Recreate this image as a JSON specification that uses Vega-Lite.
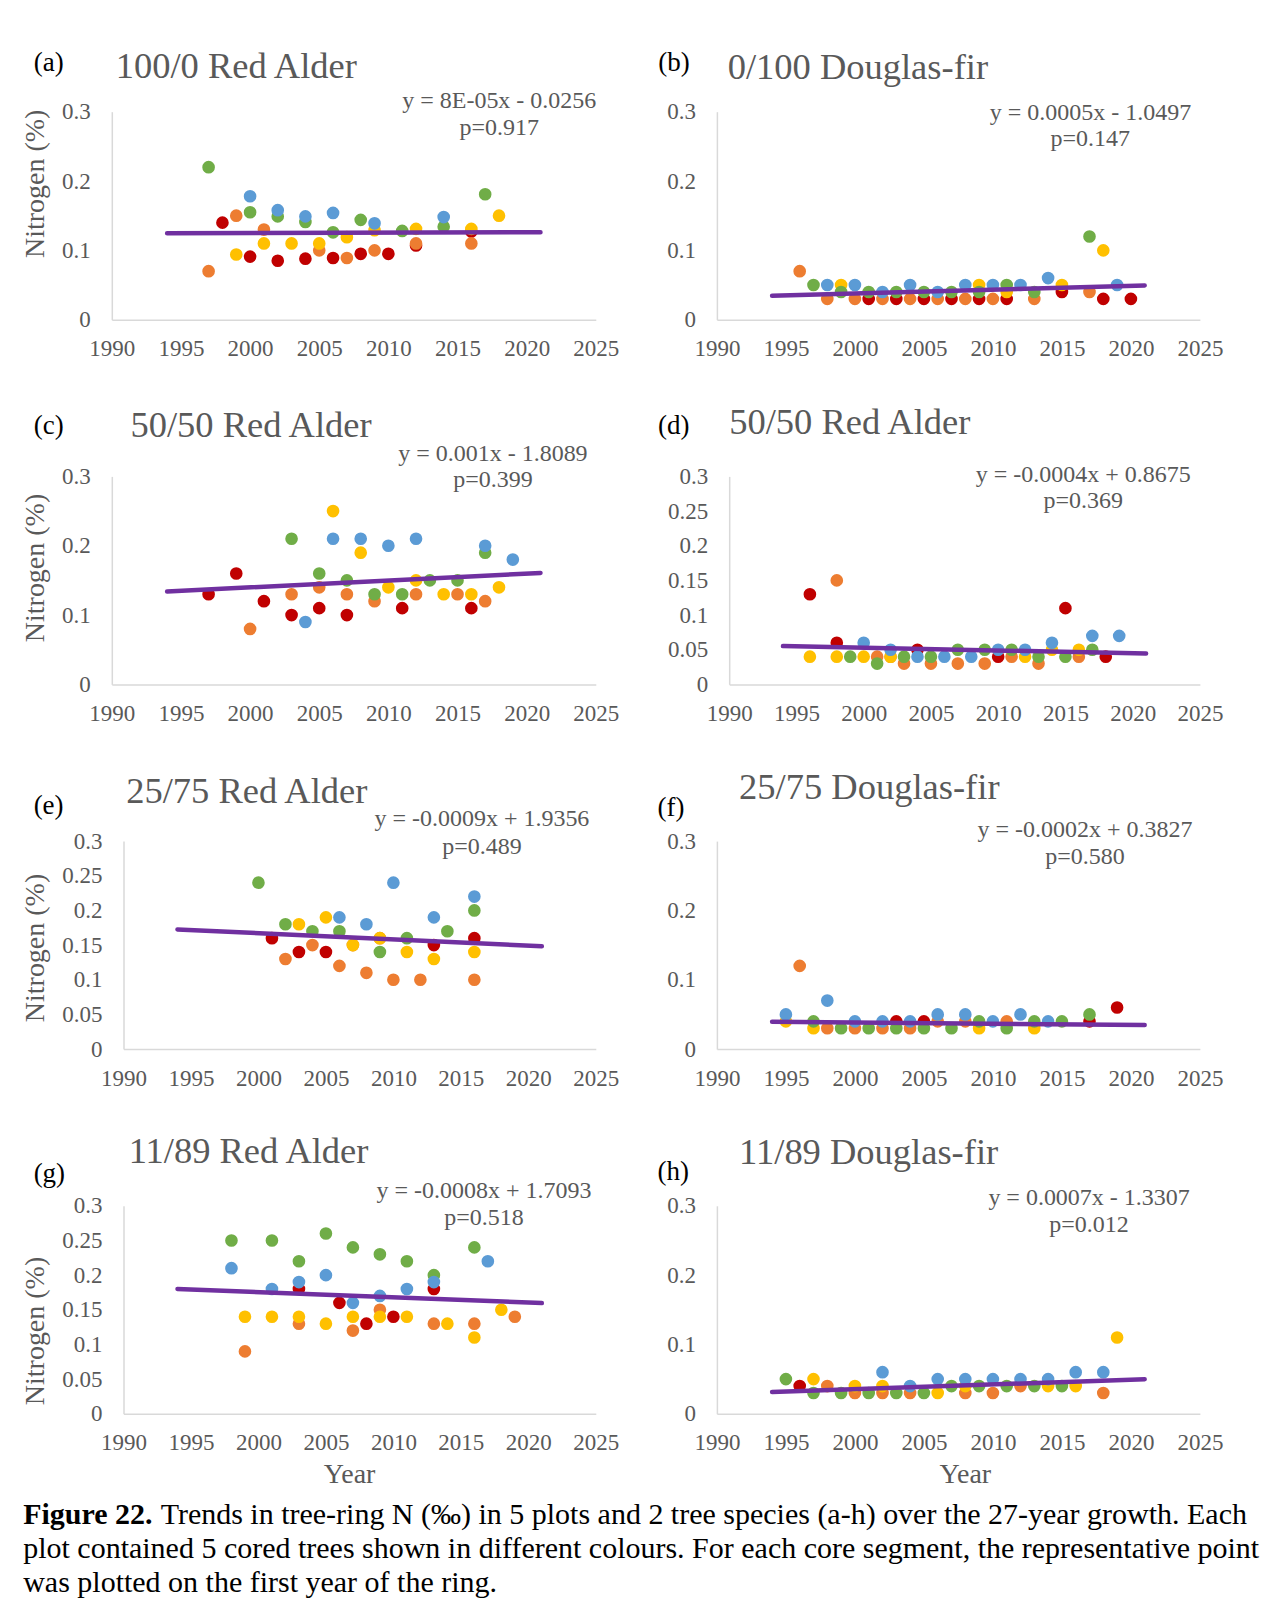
{
  "$schema": "https://vega.github.io/schema/vega-lite/v6.json",
  "background": "white",
  "padding": {"left": 20.8, "top": 48.7, "right": 5, "bottom": 5},
  "datasets": {
    "pts": [
      {"p":"a","t":4,"year":1997,"n":0.22},{"p":"a","t":2,"year":1997,"n":0.07},{"p":"a","t":1,"year":1998,"n":0.14},{"p":"a","t":2,"year":1999,"n":0.15},{"p":"a","t":3,"year":1999,"n":0.094},{"p":"a","t":5,"year":2000,"n":0.178},{"p":"a","t":4,"year":2000,"n":0.155},{"p":"a","t":1,"year":2000,"n":0.091},{"p":"a","t":2,"year":2001,"n":0.13},{"p":"a","t":3,"year":2001,"n":0.11},{"p":"a","t":5,"year":2002,"n":0.158},{"p":"a","t":4,"year":2002,"n":0.149},{"p":"a","t":1,"year":2002,"n":0.085},{"p":"a","t":3,"year":2003,"n":0.11},{"p":"a","t":5,"year":2004,"n":0.149},{"p":"a","t":4,"year":2004,"n":0.141},{"p":"a","t":1,"year":2004,"n":0.088},{"p":"a","t":3,"year":2005,"n":0.11},{"p":"a","t":2,"year":2005,"n":0.1},{"p":"a","t":5,"year":2006,"n":0.154},{"p":"a","t":4,"year":2006,"n":0.126},{"p":"a","t":1,"year":2006,"n":0.089},{"p":"a","t":3,"year":2007,"n":0.119},{"p":"a","t":2,"year":2007,"n":0.089},{"p":"a","t":4,"year":2008,"n":0.144},{"p":"a","t":1,"year":2008,"n":0.095},{"p":"a","t":5,"year":2009,"n":0.139},{"p":"a","t":3,"year":2009,"n":0.129},{"p":"a","t":2,"year":2009,"n":0.1},{"p":"a","t":1,"year":2010,"n":0.095},{"p":"a","t":4,"year":2011,"n":0.128},{"p":"a","t":3,"year":2012,"n":0.131},{"p":"a","t":1,"year":2012,"n":0.107},{"p":"a","t":2,"year":2012,"n":0.11},{"p":"a","t":5,"year":2014,"n":0.148},{"p":"a","t":4,"year":2014,"n":0.134},{"p":"a","t":3,"year":2016,"n":0.131},{"p":"a","t":1,"year":2016,"n":0.127},{"p":"a","t":2,"year":2016,"n":0.11},{"p":"a","t":4,"year":2017,"n":0.181},{"p":"a","t":3,"year":2018,"n":0.15},
      {"p":"b","t":2,"year":1996,"n":0.07},{"p":"b","t":4,"year":1997,"n":0.05},{"p":"b","t":5,"year":1998,"n":0.05},{"p":"b","t":2,"year":1998,"n":0.03},{"p":"b","t":3,"year":1999,"n":0.05},{"p":"b","t":4,"year":1999,"n":0.04},{"p":"b","t":5,"year":2000,"n":0.05},{"p":"b","t":2,"year":2000,"n":0.03},{"p":"b","t":4,"year":2001,"n":0.04},{"p":"b","t":1,"year":2001,"n":0.03},{"p":"b","t":5,"year":2002,"n":0.04},{"p":"b","t":2,"year":2002,"n":0.03},{"p":"b","t":4,"year":2003,"n":0.04},{"p":"b","t":1,"year":2003,"n":0.03},{"p":"b","t":5,"year":2004,"n":0.05},{"p":"b","t":2,"year":2004,"n":0.03},{"p":"b","t":4,"year":2005,"n":0.04},{"p":"b","t":1,"year":2005,"n":0.03},{"p":"b","t":5,"year":2006,"n":0.04},{"p":"b","t":2,"year":2006,"n":0.03},{"p":"b","t":4,"year":2007,"n":0.04},{"p":"b","t":1,"year":2007,"n":0.03},{"p":"b","t":5,"year":2008,"n":0.05},{"p":"b","t":2,"year":2008,"n":0.03},{"p":"b","t":3,"year":2009,"n":0.05},{"p":"b","t":4,"year":2009,"n":0.04},{"p":"b","t":1,"year":2009,"n":0.03},{"p":"b","t":5,"year":2010,"n":0.05},{"p":"b","t":2,"year":2010,"n":0.03},{"p":"b","t":4,"year":2011,"n":0.05},{"p":"b","t":3,"year":2011,"n":0.04},{"p":"b","t":1,"year":2011,"n":0.03},{"p":"b","t":5,"year":2012,"n":0.05},{"p":"b","t":4,"year":2013,"n":0.04},{"p":"b","t":2,"year":2013,"n":0.03},{"p":"b","t":5,"year":2014,"n":0.06},{"p":"b","t":3,"year":2015,"n":0.05},{"p":"b","t":1,"year":2015,"n":0.04},{"p":"b","t":4,"year":2017,"n":0.12},{"p":"b","t":2,"year":2017,"n":0.04},{"p":"b","t":3,"year":2018,"n":0.1},{"p":"b","t":1,"year":2018,"n":0.03},{"p":"b","t":5,"year":2019,"n":0.05},{"p":"b","t":1,"year":2020,"n":0.03},
      {"p":"c","t":1,"year":1997,"n":0.13},{"p":"c","t":1,"year":1999,"n":0.16},{"p":"c","t":2,"year":2000,"n":0.08},{"p":"c","t":1,"year":2001,"n":0.12},{"p":"c","t":4,"year":2003,"n":0.21},{"p":"c","t":2,"year":2003,"n":0.13},{"p":"c","t":1,"year":2003,"n":0.1},{"p":"c","t":5,"year":2004,"n":0.09},{"p":"c","t":4,"year":2005,"n":0.16},{"p":"c","t":2,"year":2005,"n":0.14},{"p":"c","t":1,"year":2005,"n":0.11},{"p":"c","t":3,"year":2006,"n":0.25},{"p":"c","t":5,"year":2006,"n":0.21},{"p":"c","t":4,"year":2007,"n":0.15},{"p":"c","t":2,"year":2007,"n":0.13},{"p":"c","t":1,"year":2007,"n":0.1},{"p":"c","t":5,"year":2008,"n":0.21},{"p":"c","t":3,"year":2008,"n":0.19},{"p":"c","t":4,"year":2009,"n":0.13},{"p":"c","t":2,"year":2009,"n":0.12},{"p":"c","t":5,"year":2010,"n":0.2},{"p":"c","t":3,"year":2010,"n":0.14},{"p":"c","t":4,"year":2011,"n":0.13},{"p":"c","t":1,"year":2011,"n":0.11},{"p":"c","t":5,"year":2012,"n":0.21},{"p":"c","t":3,"year":2012,"n":0.15},{"p":"c","t":2,"year":2012,"n":0.13},{"p":"c","t":4,"year":2013,"n":0.15},{"p":"c","t":3,"year":2014,"n":0.13},{"p":"c","t":4,"year":2015,"n":0.15},{"p":"c","t":2,"year":2015,"n":0.13},{"p":"c","t":3,"year":2016,"n":0.13},{"p":"c","t":1,"year":2016,"n":0.11},{"p":"c","t":5,"year":2017,"n":0.2},{"p":"c","t":4,"year":2017,"n":0.19},{"p":"c","t":2,"year":2017,"n":0.12},{"p":"c","t":3,"year":2018,"n":0.14},{"p":"c","t":5,"year":2019,"n":0.18},
      {"p":"d","t":1,"year":1996,"n":0.13},{"p":"d","t":3,"year":1996,"n":0.04},{"p":"d","t":2,"year":1998,"n":0.15},{"p":"d","t":1,"year":1998,"n":0.06},{"p":"d","t":3,"year":1998,"n":0.04},{"p":"d","t":4,"year":1999,"n":0.04},{"p":"d","t":5,"year":2000,"n":0.06},{"p":"d","t":3,"year":2000,"n":0.04},{"p":"d","t":2,"year":2001,"n":0.04},{"p":"d","t":4,"year":2001,"n":0.03},{"p":"d","t":5,"year":2002,"n":0.05},{"p":"d","t":2,"year":2002,"n":0.04},{"p":"d","t":3,"year":2002,"n":0.04},{"p":"d","t":4,"year":2003,"n":0.04},{"p":"d","t":2,"year":2003,"n":0.03},{"p":"d","t":1,"year":2004,"n":0.05},{"p":"d","t":5,"year":2004,"n":0.04},{"p":"d","t":4,"year":2005,"n":0.04},{"p":"d","t":2,"year":2005,"n":0.03},{"p":"d","t":5,"year":2006,"n":0.04},{"p":"d","t":4,"year":2007,"n":0.05},{"p":"d","t":2,"year":2007,"n":0.03},{"p":"d","t":5,"year":2008,"n":0.04},{"p":"d","t":4,"year":2009,"n":0.05},{"p":"d","t":2,"year":2009,"n":0.03},{"p":"d","t":5,"year":2010,"n":0.05},{"p":"d","t":1,"year":2010,"n":0.04},{"p":"d","t":4,"year":2011,"n":0.05},{"p":"d","t":2,"year":2011,"n":0.04},{"p":"d","t":5,"year":2012,"n":0.05},{"p":"d","t":3,"year":2012,"n":0.04},{"p":"d","t":4,"year":2013,"n":0.04},{"p":"d","t":2,"year":2013,"n":0.03},{"p":"d","t":5,"year":2014,"n":0.06},{"p":"d","t":3,"year":2014,"n":0.05},{"p":"d","t":1,"year":2015,"n":0.11},{"p":"d","t":4,"year":2015,"n":0.04},{"p":"d","t":3,"year":2016,"n":0.05},{"p":"d","t":2,"year":2016,"n":0.04},{"p":"d","t":5,"year":2017,"n":0.07},{"p":"d","t":4,"year":2017,"n":0.05},{"p":"d","t":1,"year":2018,"n":0.04},{"p":"d","t":5,"year":2019,"n":0.07},
      {"p":"e","t":4,"year":2000,"n":0.24},{"p":"e","t":1,"year":2001,"n":0.16},{"p":"e","t":4,"year":2002,"n":0.18},{"p":"e","t":2,"year":2002,"n":0.13},{"p":"e","t":3,"year":2003,"n":0.18},{"p":"e","t":1,"year":2003,"n":0.14},{"p":"e","t":4,"year":2004,"n":0.17},{"p":"e","t":2,"year":2004,"n":0.15},{"p":"e","t":3,"year":2005,"n":0.19},{"p":"e","t":1,"year":2005,"n":0.14},{"p":"e","t":5,"year":2006,"n":0.19},{"p":"e","t":4,"year":2006,"n":0.17},{"p":"e","t":2,"year":2006,"n":0.12},{"p":"e","t":2,"year":2007,"n":0.15},{"p":"e","t":3,"year":2007,"n":0.15},{"p":"e","t":5,"year":2008,"n":0.18},{"p":"e","t":2,"year":2008,"n":0.11},{"p":"e","t":2,"year":2009,"n":0.16},{"p":"e","t":3,"year":2009,"n":0.16},{"p":"e","t":4,"year":2009,"n":0.14},{"p":"e","t":5,"year":2010,"n":0.24},{"p":"e","t":2,"year":2010,"n":0.1},{"p":"e","t":4,"year":2011,"n":0.16},{"p":"e","t":3,"year":2011,"n":0.14},{"p":"e","t":2,"year":2012,"n":0.1},{"p":"e","t":5,"year":2013,"n":0.19},{"p":"e","t":1,"year":2013,"n":0.15},{"p":"e","t":3,"year":2013,"n":0.13},{"p":"e","t":4,"year":2014,"n":0.17},{"p":"e","t":5,"year":2016,"n":0.22},{"p":"e","t":4,"year":2016,"n":0.2},{"p":"e","t":1,"year":2016,"n":0.16},{"p":"e","t":3,"year":2016,"n":0.14},{"p":"e","t":2,"year":2016,"n":0.1},
      {"p":"f","t":5,"year":1995,"n":0.05},{"p":"f","t":3,"year":1995,"n":0.04},{"p":"f","t":2,"year":1996,"n":0.12},{"p":"f","t":4,"year":1997,"n":0.04},{"p":"f","t":3,"year":1997,"n":0.03},{"p":"f","t":5,"year":1998,"n":0.07},{"p":"f","t":2,"year":1998,"n":0.03},{"p":"f","t":4,"year":1999,"n":0.03},{"p":"f","t":5,"year":2000,"n":0.04},{"p":"f","t":2,"year":2000,"n":0.03},{"p":"f","t":4,"year":2001,"n":0.03},{"p":"f","t":5,"year":2002,"n":0.04},{"p":"f","t":2,"year":2002,"n":0.03},{"p":"f","t":1,"year":2003,"n":0.04},{"p":"f","t":4,"year":2003,"n":0.03},{"p":"f","t":5,"year":2004,"n":0.04},{"p":"f","t":2,"year":2004,"n":0.03},{"p":"f","t":1,"year":2005,"n":0.04},{"p":"f","t":4,"year":2005,"n":0.03},{"p":"f","t":5,"year":2006,"n":0.05},{"p":"f","t":2,"year":2006,"n":0.04},{"p":"f","t":4,"year":2007,"n":0.03},{"p":"f","t":5,"year":2008,"n":0.05},{"p":"f","t":2,"year":2008,"n":0.04},{"p":"f","t":4,"year":2009,"n":0.04},{"p":"f","t":3,"year":2009,"n":0.03},{"p":"f","t":5,"year":2010,"n":0.04},{"p":"f","t":2,"year":2011,"n":0.04},{"p":"f","t":4,"year":2011,"n":0.03},{"p":"f","t":5,"year":2012,"n":0.05},{"p":"f","t":4,"year":2013,"n":0.04},{"p":"f","t":3,"year":2013,"n":0.03},{"p":"f","t":5,"year":2014,"n":0.04},{"p":"f","t":4,"year":2015,"n":0.04},{"p":"f","t":1,"year":2017,"n":0.04},{"p":"f","t":4,"year":2017,"n":0.05},{"p":"f","t":1,"year":2019,"n":0.06},
      {"p":"g","t":4,"year":1998,"n":0.25},{"p":"g","t":5,"year":1998,"n":0.21},{"p":"g","t":3,"year":1999,"n":0.14},{"p":"g","t":2,"year":1999,"n":0.09},{"p":"g","t":4,"year":2001,"n":0.25},{"p":"g","t":5,"year":2001,"n":0.18},{"p":"g","t":3,"year":2001,"n":0.14},{"p":"g","t":4,"year":2003,"n":0.22},{"p":"g","t":5,"year":2003,"n":0.19},{"p":"g","t":1,"year":2003,"n":0.18},{"p":"g","t":3,"year":2003,"n":0.14},{"p":"g","t":2,"year":2003,"n":0.13},{"p":"g","t":4,"year":2005,"n":0.26},{"p":"g","t":5,"year":2005,"n":0.2},{"p":"g","t":3,"year":2005,"n":0.13},{"p":"g","t":1,"year":2006,"n":0.16},{"p":"g","t":4,"year":2007,"n":0.24},{"p":"g","t":5,"year":2007,"n":0.16},{"p":"g","t":3,"year":2007,"n":0.14},{"p":"g","t":2,"year":2007,"n":0.12},{"p":"g","t":1,"year":2008,"n":0.13},{"p":"g","t":4,"year":2009,"n":0.23},{"p":"g","t":5,"year":2009,"n":0.17},{"p":"g","t":2,"year":2009,"n":0.15},{"p":"g","t":3,"year":2009,"n":0.14},{"p":"g","t":1,"year":2010,"n":0.14},{"p":"g","t":4,"year":2011,"n":0.22},{"p":"g","t":5,"year":2011,"n":0.18},{"p":"g","t":3,"year":2011,"n":0.14},{"p":"g","t":4,"year":2013,"n":0.2},{"p":"g","t":5,"year":2013,"n":0.19},{"p":"g","t":1,"year":2013,"n":0.18},{"p":"g","t":2,"year":2013,"n":0.13},{"p":"g","t":3,"year":2014,"n":0.13},{"p":"g","t":4,"year":2016,"n":0.24},{"p":"g","t":2,"year":2016,"n":0.13},{"p":"g","t":3,"year":2016,"n":0.11},{"p":"g","t":5,"year":2017,"n":0.22},{"p":"g","t":3,"year":2018,"n":0.15},{"p":"g","t":2,"year":2019,"n":0.14},
      {"p":"h","t":4,"year":1995,"n":0.05},{"p":"h","t":1,"year":1996,"n":0.04},{"p":"h","t":3,"year":1997,"n":0.05},{"p":"h","t":4,"year":1997,"n":0.03},{"p":"h","t":2,"year":1998,"n":0.04},{"p":"h","t":4,"year":1999,"n":0.03},{"p":"h","t":3,"year":2000,"n":0.04},{"p":"h","t":2,"year":2000,"n":0.03},{"p":"h","t":4,"year":2001,"n":0.03},{"p":"h","t":5,"year":2002,"n":0.06},{"p":"h","t":3,"year":2002,"n":0.04},{"p":"h","t":2,"year":2002,"n":0.03},{"p":"h","t":4,"year":2003,"n":0.03},{"p":"h","t":5,"year":2004,"n":0.04},{"p":"h","t":2,"year":2004,"n":0.03},{"p":"h","t":4,"year":2005,"n":0.03},{"p":"h","t":5,"year":2006,"n":0.05},{"p":"h","t":3,"year":2006,"n":0.03},{"p":"h","t":4,"year":2007,"n":0.04},{"p":"h","t":5,"year":2008,"n":0.05},{"p":"h","t":3,"year":2008,"n":0.04},{"p":"h","t":2,"year":2008,"n":0.03},{"p":"h","t":4,"year":2009,"n":0.04},{"p":"h","t":5,"year":2010,"n":0.05},{"p":"h","t":2,"year":2010,"n":0.03},{"p":"h","t":4,"year":2011,"n":0.04},{"p":"h","t":5,"year":2012,"n":0.05},{"p":"h","t":2,"year":2012,"n":0.04},{"p":"h","t":4,"year":2013,"n":0.04},{"p":"h","t":5,"year":2014,"n":0.05},{"p":"h","t":3,"year":2014,"n":0.04},{"p":"h","t":4,"year":2015,"n":0.04},{"p":"h","t":5,"year":2016,"n":0.06},{"p":"h","t":3,"year":2016,"n":0.04},{"p":"h","t":5,"year":2018,"n":0.06},{"p":"h","t":2,"year":2018,"n":0.03},{"p":"h","t":3,"year":2019,"n":0.11}
    ],
    "trend": [
      {"p":"a","year":1994,"n":0.1248},{"p":"a","year":2021,"n":0.1262},
      {"p":"b","year":1994,"n":0.0346},{"p":"b","year":2021,"n":0.0494},
      {"p":"c","year":1994,"n":0.1339},{"p":"c","year":2021,"n":0.1608},
      {"p":"d","year":1994,"n":0.0552},{"p":"d","year":2021,"n":0.0446},
      {"p":"e","year":1994,"n":0.1726},{"p":"e","year":2021,"n":0.1483},
      {"p":"f","year":1994,"n":0.0395},{"p":"f","year":2021,"n":0.0347},
      {"p":"g","year":1994,"n":0.18},{"p":"g","year":2021,"n":0.1597},
      {"p":"h","year":1994,"n":0.0315},{"p":"h","year":2021,"n":0.0498}
    ]
  },
  "title": {
    "text": "Figure 22.",
    "subtitle": [
      "\u200b\u00a0\u00a0\u00a0\u00a0\u00a0\u00a0\u00a0\u00a0\u00a0\u00a0\u00a0\u00a0\u00a0\u00a0\u00a0\u00a0\u00a0\u00a0\u200aTrends in tree-ring N (‰) in 5 plots and 2 tree species (a-h) over the 27-year growth. Each",
      "plot contained 5 cored trees shown in different colours. For each core segment, the representative point",
      "was plotted on the first year of the ring."
    ],
    "orient": "bottom",
    "anchor": "start",
    "baseline": "top",
    "offset": 11,
    "dx": 2,
    "font": "Liberation Serif",
    "fontSize": 30,
    "fontWeight": "bold",
    "color": "black",
    "subtitleFont": "Liberation Serif",
    "subtitleFontSize": 30,
    "subtitleFontWeight": "normal",
    "subtitleColor": "black",
    "subtitleLineHeight": 34.2,
    "subtitlePadding": -30
  },
  "columns": 2,
  "bounds": "flush",
  "spacing": {"row": 156.7, "column": 121.1},
  "concat": [
    {
      "width": 484, "height": 208,
      "layer": [
        {"data": {"name": "pts"}, "transform": [{"filter": "datum.p == 'a'"}],
         "mark": {"type": "circle", "size": 160, "opacity": 1},
         "encoding": {
           "x": {"field": "year", "type": "quantitative", "scale": {"domain": [1990, 2025], "nice": false, "zero": false}, "axis": {"values": [1990,1995,2000,2005,2010,2015,2020,2025], "tickCount": 20, "format": "d", "title": null}},
           "y": {"field": "n", "type": "quantitative", "scale": {"domain": [0, 0.3], "nice": false}, "axis": {"values": [0,0.1,0.2,0.3], "tickCount": 10, "format": "~g", "title": "Nitrogen (%)", "titleX": -75.9, "titleY": 71.6, "titleAngle": 270, "titleAlign": "center", "titleBaseline": "middle"}},
           "color": {"field": "t", "type": "nominal", "scale": {"domain": [1,2,3,4,5], "range": ["#C00000","#ED7D31","#FFC000","#70AD47","#5B9BD5"]}, "legend": null},
           "order": {"field": "t", "type": "quantitative"}
         }},
        {"data": {"name": "trend"}, "transform": [{"filter": "datum.p == 'a'"}],
         "mark": {"type": "line", "color": "#7030A0", "strokeWidth": 4.5, "strokeCap": "round"},
         "encoding": {"x": {"field": "year", "type": "quantitative"}, "y": {"field": "n", "type": "quantitative"}}},
        {"data": {"values": [{}]}, "mark": {"type": "text", "align": "left", "baseline": "middle", "fontSize": 27, "color": "black"},
         "encoding": {"x": {"datum": 1984.35, "type": "quantitative"}, "y": {"datum": 0.3697, "type": "quantitative"}, "text": {"value": "(a)"}}},
        {"data": {"values": [{}]}, "mark": {"type": "text", "align": "left", "baseline": "middle", "fontSize": 36.5, "color": "#595959"},
         "encoding": {"x": {"datum": 1990.28, "type": "quantitative"}, "y": {"datum": 0.3648, "type": "quantitative"}, "text": {"value": "100/0 Red Alder"}}},
        {"data": {"values": [{}]}, "mark": {"type": "text", "align": "center", "baseline": "middle", "fontSize": 24, "color": "#595959"},
         "encoding": {"x": {"datum": 2018.02, "type": "quantitative"}, "y": {"datum": 0.3158, "type": "quantitative"}, "text": {"value": "y = 8E-05x - 0.0256"}}},
        {"data": {"values": [{}]}, "mark": {"type": "text", "align": "center", "baseline": "middle", "fontSize": 24, "color": "#595959"},
         "encoding": {"x": {"datum": 2018.02, "type": "quantitative"}, "y": {"datum": 0.2765, "type": "quantitative"}, "text": {"value": "p=0.917"}}}
      ]
    },
    {
      "width": 483, "height": 208,
      "layer": [
        {"data": {"name": "pts"}, "transform": [{"filter": "datum.p == 'b'"}],
         "mark": {"type": "circle", "size": 160, "opacity": 1},
         "encoding": {
           "x": {"field": "year", "type": "quantitative", "scale": {"domain": [1990, 2025], "nice": false, "zero": false}, "axis": {"values": [1990,1995,2000,2005,2010,2015,2020,2025], "tickCount": 20, "format": "d", "title": null}},
           "y": {"field": "n", "type": "quantitative", "scale": {"domain": [0, 0.3], "nice": false}, "axis": {"values": [0,0.1,0.2,0.3], "tickCount": 10, "format": "~g", "title": null}},
           "color": {"field": "t", "type": "nominal", "scale": {"domain": [1,2,3,4,5], "range": ["#C00000","#ED7D31","#FFC000","#70AD47","#5B9BD5"]}, "legend": null},
           "order": {"field": "t", "type": "quantitative"}
         }},
        {"data": {"name": "trend"}, "transform": [{"filter": "datum.p == 'b'"}],
         "mark": {"type": "line", "color": "#7030A0", "strokeWidth": 4.5, "strokeCap": "round"},
         "encoding": {"x": {"field": "year", "type": "quantitative"}, "y": {"field": "n", "type": "quantitative"}}},
        {"data": {"values": [{}]}, "mark": {"type": "text", "align": "left", "baseline": "middle", "fontSize": 27, "color": "black"},
         "encoding": {"x": {"datum": 1985.75, "type": "quantitative"}, "y": {"datum": 0.3706, "type": "quantitative"}, "text": {"value": "(b)"}}},
        {"data": {"values": [{}]}, "mark": {"type": "text", "align": "left", "baseline": "middle", "fontSize": 36.5, "color": "#595959"},
         "encoding": {"x": {"datum": 1990.78, "type": "quantitative"}, "y": {"datum": 0.3629, "type": "quantitative"}, "text": {"value": "0/100 Douglas-fir"}}},
        {"data": {"values": [{}]}, "mark": {"type": "text", "align": "center", "baseline": "middle", "fontSize": 24, "color": "#595959"},
         "encoding": {"x": {"datum": 2017.07, "type": "quantitative"}, "y": {"datum": 0.2986, "type": "quantitative"}, "text": {"value": "y = 0.0005x - 1.0497"}}},
        {"data": {"values": [{}]}, "mark": {"type": "text", "align": "center", "baseline": "middle", "fontSize": 24, "color": "#595959"},
         "encoding": {"x": {"datum": 2017.05, "type": "quantitative"}, "y": {"datum": 0.2603, "type": "quantitative"}, "text": {"value": "p=0.147"}}}
      ]
    },
    {
      "width": 484, "height": 208,
      "layer": [
        {"data": {"name": "pts"}, "transform": [{"filter": "datum.p == 'c'"}],
         "mark": {"type": "circle", "size": 160, "opacity": 1},
         "encoding": {
           "x": {"field": "year", "type": "quantitative", "scale": {"domain": [1990, 2025], "nice": false, "zero": false}, "axis": {"values": [1990,1995,2000,2005,2010,2015,2020,2025], "tickCount": 20, "format": "d", "title": null}},
           "y": {"field": "n", "type": "quantitative", "scale": {"domain": [0, 0.3], "nice": false}, "axis": {"values": [0,0.1,0.2,0.3], "tickCount": 10, "format": "~g", "title": "Nitrogen (%)", "titleX": -75.9, "titleY": 91.1, "titleAngle": 270, "titleAlign": "center", "titleBaseline": "middle"}},
           "color": {"field": "t", "type": "nominal", "scale": {"domain": [1,2,3,4,5], "range": ["#C00000","#ED7D31","#FFC000","#70AD47","#5B9BD5"]}, "legend": null},
           "order": {"field": "t", "type": "quantitative"}
         }},
        {"data": {"name": "trend"}, "transform": [{"filter": "datum.p == 'c'"}],
         "mark": {"type": "line", "color": "#7030A0", "strokeWidth": 4.5, "strokeCap": "round"},
         "encoding": {"x": {"field": "year", "type": "quantitative"}, "y": {"field": "n", "type": "quantitative"}}},
        {"data": {"values": [{}]}, "mark": {"type": "text", "align": "left", "baseline": "middle", "fontSize": 27, "color": "black"},
         "encoding": {"x": {"datum": 1984.35, "type": "quantitative"}, "y": {"datum": 0.373, "type": "quantitative"}, "text": {"value": "(c)"}}},
        {"data": {"values": [{}]}, "mark": {"type": "text", "align": "left", "baseline": "middle", "fontSize": 36.5, "color": "#595959"},
         "encoding": {"x": {"datum": 1991.35, "type": "quantitative"}, "y": {"datum": 0.373, "type": "quantitative"}, "text": {"value": "50/50 Red Alder"}}},
        {"data": {"values": [{}]}, "mark": {"type": "text", "align": "center", "baseline": "middle", "fontSize": 24, "color": "#595959"},
         "encoding": {"x": {"datum": 2017.56, "type": "quantitative"}, "y": {"datum": 0.3327, "type": "quantitative"}, "text": {"value": "y = 0.001x - 1.8089"}}},
        {"data": {"values": [{}]}, "mark": {"type": "text", "align": "center", "baseline": "middle", "fontSize": 24, "color": "#595959"},
         "encoding": {"x": {"datum": 2017.56, "type": "quantitative"}, "y": {"datum": 0.2948, "type": "quantitative"}, "text": {"value": "p=0.399"}}}
      ]
    },
    {
      "width": 483, "height": 208,
      "layer": [
        {"data": {"name": "pts"}, "transform": [{"filter": "datum.p == 'd'"}],
         "mark": {"type": "circle", "size": 160, "opacity": 1},
         "encoding": {
           "x": {"field": "year", "type": "quantitative", "scale": {"domain": [1990, 2025], "nice": false, "zero": false, "range": [12.3, 483]}, "axis": {"values": [1990,1995,2000,2005,2010,2015,2020,2025], "tickCount": 20, "format": "d", "title": null}},
           "y": {"field": "n", "type": "quantitative", "scale": {"domain": [0, 0.3], "nice": false}, "axis": {"values": [0,0.05,0.1,0.15,0.2,0.25,0.3], "tickCount": 10, "format": "~g", "title": null, "offset": -12.3}},
           "color": {"field": "t", "type": "nominal", "scale": {"domain": [1,2,3,4,5], "range": ["#C00000","#ED7D31","#FFC000","#70AD47","#5B9BD5"]}, "legend": null},
           "order": {"field": "t", "type": "quantitative"}
         }},
        {"data": {"name": "trend"}, "transform": [{"filter": "datum.p == 'd'"}],
         "mark": {"type": "line", "color": "#7030A0", "strokeWidth": 4.5, "strokeCap": "round"},
         "encoding": {"x": {"field": "year", "type": "quantitative"}, "y": {"field": "n", "type": "quantitative"}}},
        {"data": {"values": [{}]}, "mark": {"type": "text", "align": "left", "baseline": "middle", "fontSize": 27, "color": "black"},
         "encoding": {"x": {"datum": 1984.7, "type": "quantitative"}, "y": {"datum": 0.373, "type": "quantitative"}, "text": {"value": "(d)"}}},
        {"data": {"values": [{}]}, "mark": {"type": "text", "align": "left", "baseline": "middle", "fontSize": 36.5, "color": "#595959"},
         "encoding": {"x": {"datum": 1990.0, "type": "quantitative"}, "y": {"datum": 0.3769, "type": "quantitative"}, "text": {"value": "50/50 Red Alder"}}},
        {"data": {"values": [{}]}, "mark": {"type": "text", "align": "center", "baseline": "middle", "fontSize": 24, "color": "#595959"},
         "encoding": {"x": {"datum": 2016.33, "type": "quantitative"}, "y": {"datum": 0.3025, "type": "quantitative"}, "text": {"value": "y = -0.0004x + 0.8675"}}},
        {"data": {"values": [{}]}, "mark": {"type": "text", "align": "center", "baseline": "middle", "fontSize": 24, "color": "#595959"},
         "encoding": {"x": {"datum": 2016.33, "type": "quantitative"}, "y": {"datum": 0.264, "type": "quantitative"}, "text": {"value": "p=0.369"}}}
      ]
    },
    {
      "width": 484, "height": 208,
      "layer": [
        {"data": {"name": "pts"}, "transform": [{"filter": "datum.p == 'e'"}],
         "mark": {"type": "circle", "size": 160, "opacity": 1},
         "encoding": {
           "x": {"field": "year", "type": "quantitative", "scale": {"domain": [1990, 2025], "nice": false, "zero": false, "range": [11.7, 484]}, "axis": {"values": [1990,1995,2000,2005,2010,2015,2020,2025], "tickCount": 20, "format": "d", "title": null}},
           "y": {"field": "n", "type": "quantitative", "scale": {"domain": [0, 0.3], "nice": false}, "axis": {"values": [0,0.05,0.1,0.15,0.2,0.25,0.3], "tickCount": 10, "format": "~g", "offset": -11.7, "title": "Nitrogen (%)", "titleX": -88.3, "titleY": 106.4, "titleAngle": 270, "titleAlign": "center", "titleBaseline": "middle"}},
           "color": {"field": "t", "type": "nominal", "scale": {"domain": [1,2,3,4,5], "range": ["#C00000","#ED7D31","#FFC000","#70AD47","#5B9BD5"]}, "legend": null},
           "order": {"field": "t", "type": "quantitative"}
         }},
        {"data": {"name": "trend"}, "transform": [{"filter": "datum.p == 'e'"}],
         "mark": {"type": "line", "color": "#7030A0", "strokeWidth": 4.5, "strokeCap": "round"},
         "encoding": {"x": {"field": "year", "type": "quantitative"}, "y": {"field": "n", "type": "quantitative"}}},
        {"data": {"values": [{}]}, "mark": {"type": "text", "align": "left", "baseline": "middle", "fontSize": 27, "color": "black"},
         "encoding": {"x": {"datum": 1983.34, "type": "quantitative"}, "y": {"datum": 0.351, "type": "quantitative"}, "text": {"value": "(e)"}}},
        {"data": {"values": [{}]}, "mark": {"type": "text", "align": "left", "baseline": "middle", "fontSize": 36.5, "color": "#595959"},
         "encoding": {"x": {"datum": 1990.2, "type": "quantitative"}, "y": {"datum": 0.3706, "type": "quantitative"}, "text": {"value": "25/75 Red Alder"}}},
        {"data": {"values": [{}]}, "mark": {"type": "text", "align": "center", "baseline": "middle", "fontSize": 24, "color": "#595959"},
         "encoding": {"x": {"datum": 2016.56, "type": "quantitative"}, "y": {"datum": 0.3317, "type": "quantitative"}, "text": {"value": "y = -0.0009x + 1.9356"}}},
        {"data": {"values": [{}]}, "mark": {"type": "text", "align": "center", "baseline": "middle", "fontSize": 24, "color": "#595959"},
         "encoding": {"x": {"datum": 2016.56, "type": "quantitative"}, "y": {"datum": 0.2918, "type": "quantitative"}, "text": {"value": "p=0.489"}}}
      ]
    },
    {
      "width": 483, "height": 208,
      "layer": [
        {"data": {"name": "pts"}, "transform": [{"filter": "datum.p == 'f'"}],
         "mark": {"type": "circle", "size": 160, "opacity": 1},
         "encoding": {
           "x": {"field": "year", "type": "quantitative", "scale": {"domain": [1990, 2025], "nice": false, "zero": false}, "axis": {"values": [1990,1995,2000,2005,2010,2015,2020,2025], "tickCount": 20, "format": "d", "title": null}},
           "y": {"field": "n", "type": "quantitative", "scale": {"domain": [0, 0.3], "nice": false}, "axis": {"values": [0,0.1,0.2,0.3], "tickCount": 10, "format": "~g", "title": null}},
           "color": {"field": "t", "type": "nominal", "scale": {"domain": [1,2,3,4,5], "range": ["#C00000","#ED7D31","#FFC000","#70AD47","#5B9BD5"]}, "legend": null},
           "order": {"field": "t", "type": "quantitative"}
         }},
        {"data": {"name": "trend"}, "transform": [{"filter": "datum.p == 'f'"}],
         "mark": {"type": "line", "color": "#7030A0", "strokeWidth": 4.5, "strokeCap": "round"},
         "encoding": {"x": {"field": "year", "type": "quantitative"}, "y": {"field": "n", "type": "quantitative"}}},
        {"data": {"values": [{}]}, "mark": {"type": "text", "align": "left", "baseline": "middle", "fontSize": 27, "color": "black"},
         "encoding": {"x": {"datum": 1985.7, "type": "quantitative"}, "y": {"datum": 0.3482, "type": "quantitative"}, "text": {"value": "(f)"}}},
        {"data": {"values": [{}]}, "mark": {"type": "text", "align": "left", "baseline": "middle", "fontSize": 36.5, "color": "#595959"},
         "encoding": {"x": {"datum": 1991.61, "type": "quantitative"}, "y": {"datum": 0.3763, "type": "quantitative"}, "text": {"value": "25/75 Douglas-fir"}}},
        {"data": {"values": [{}]}, "mark": {"type": "text", "align": "center", "baseline": "middle", "fontSize": 24, "color": "#595959"},
         "encoding": {"x": {"datum": 2016.67, "type": "quantitative"}, "y": {"datum": 0.3164, "type": "quantitative"}, "text": {"value": "y = -0.0002x + 0.3827"}}},
        {"data": {"values": [{}]}, "mark": {"type": "text", "align": "center", "baseline": "middle", "fontSize": 24, "color": "#595959"},
         "encoding": {"x": {"datum": 2016.67, "type": "quantitative"}, "y": {"datum": 0.2768, "type": "quantitative"}, "text": {"value": "p=0.580"}}}
      ]
    },
    {
      "width": 484, "height": 208,
      "layer": [
        {"data": {"name": "pts"}, "transform": [{"filter": "datum.p == 'g'"}],
         "mark": {"type": "circle", "size": 160, "opacity": 1},
         "encoding": {
           "x": {"field": "year", "type": "quantitative", "scale": {"domain": [1990, 2025], "nice": false, "zero": false, "range": [11.7, 484]}, "axis": {"values": [1990,1995,2000,2005,2010,2015,2020,2025], "tickCount": 20, "format": "d", "title": "Year", "titleX": 237.3, "titleY": 61.2, "titleAlign": "center", "titleBaseline": "middle"}},
           "y": {"field": "n", "type": "quantitative", "scale": {"domain": [0, 0.3], "nice": false}, "axis": {"values": [0,0.05,0.1,0.15,0.2,0.25,0.3], "tickCount": 10, "format": "~g", "offset": -11.7, "title": "Nitrogen (%)", "titleX": -88.3, "titleY": 124.7, "titleAngle": 270, "titleAlign": "center", "titleBaseline": "middle"}},
           "color": {"field": "t", "type": "nominal", "scale": {"domain": [1,2,3,4,5], "range": ["#C00000","#ED7D31","#FFC000","#70AD47","#5B9BD5"]}, "legend": null},
           "order": {"field": "t", "type": "quantitative"}
         }},
        {"data": {"name": "trend"}, "transform": [{"filter": "datum.p == 'g'"}],
         "mark": {"type": "line", "color": "#7030A0", "strokeWidth": 4.5, "strokeCap": "round"},
         "encoding": {"x": {"field": "year", "type": "quantitative"}, "y": {"field": "n", "type": "quantitative"}}},
        {"data": {"values": [{}]}, "mark": {"type": "text", "align": "left", "baseline": "middle", "fontSize": 27, "color": "black"},
         "encoding": {"x": {"datum": 1983.34, "type": "quantitative"}, "y": {"datum": 0.346, "type": "quantitative"}, "text": {"value": "(g)"}}},
        {"data": {"values": [{}]}, "mark": {"type": "text", "align": "left", "baseline": "middle", "fontSize": 36.5, "color": "#595959"},
         "encoding": {"x": {"datum": 1990.38, "type": "quantitative"}, "y": {"datum": 0.3774, "type": "quantitative"}, "text": {"value": "11/89 Red Alder"}}},
        {"data": {"values": [{}]}, "mark": {"type": "text", "align": "center", "baseline": "middle", "fontSize": 24, "color": "#595959"},
         "encoding": {"x": {"datum": 2016.72, "type": "quantitative"}, "y": {"datum": 0.3218, "type": "quantitative"}, "text": {"value": "y = -0.0008x + 1.7093"}}},
        {"data": {"values": [{}]}, "mark": {"type": "text", "align": "center", "baseline": "middle", "fontSize": 24, "color": "#595959"},
         "encoding": {"x": {"datum": 2016.72, "type": "quantitative"}, "y": {"datum": 0.2826, "type": "quantitative"}, "text": {"value": "p=0.518"}}}
      ]
    },
    {
      "width": 483, "height": 208,
      "layer": [
        {"data": {"name": "pts"}, "transform": [{"filter": "datum.p == 'h'"}],
         "mark": {"type": "circle", "size": 160, "opacity": 1},
         "encoding": {
           "x": {"field": "year", "type": "quantitative", "scale": {"domain": [1990, 2025], "nice": false, "zero": false}, "axis": {"values": [1990,1995,2000,2005,2010,2015,2020,2025], "tickCount": 20, "format": "d", "title": "Year", "titleX": 248, "titleY": 61.2, "titleAlign": "center", "titleBaseline": "middle"}},
           "y": {"field": "n", "type": "quantitative", "scale": {"domain": [0, 0.3], "nice": false}, "axis": {"values": [0,0.1,0.2,0.3], "tickCount": 10, "format": "~g", "title": null}},
           "color": {"field": "t", "type": "nominal", "scale": {"domain": [1,2,3,4,5], "range": ["#C00000","#ED7D31","#FFC000","#70AD47","#5B9BD5"]}, "legend": null},
           "order": {"field": "t", "type": "quantitative"}
         }},
        {"data": {"name": "trend"}, "transform": [{"filter": "datum.p == 'h'"}],
         "mark": {"type": "line", "color": "#7030A0", "strokeWidth": 4.5, "strokeCap": "round"},
         "encoding": {"x": {"field": "year", "type": "quantitative"}, "y": {"field": "n", "type": "quantitative"}}},
        {"data": {"values": [{}]}, "mark": {"type": "text", "align": "left", "baseline": "middle", "fontSize": 27, "color": "black"},
         "encoding": {"x": {"datum": 1985.7, "type": "quantitative"}, "y": {"datum": 0.3483, "type": "quantitative"}, "text": {"value": "(h)"}}},
        {"data": {"values": [{}]}, "mark": {"type": "text", "align": "left", "baseline": "middle", "fontSize": 36.5, "color": "#595959"},
         "encoding": {"x": {"datum": 1991.61, "type": "quantitative"}, "y": {"datum": 0.3765, "type": "quantitative"}, "text": {"value": "11/89 Douglas-fir"}}},
        {"data": {"values": [{}]}, "mark": {"type": "text", "align": "center", "baseline": "middle", "fontSize": 24, "color": "#595959"},
         "encoding": {"x": {"datum": 2016.97, "type": "quantitative"}, "y": {"datum": 0.3106, "type": "quantitative"}, "text": {"value": "y = 0.0007x - 1.3307"}}},
        {"data": {"values": [{}]}, "mark": {"type": "text", "align": "center", "baseline": "middle", "fontSize": 24, "color": "#595959"},
         "encoding": {"x": {"datum": 2016.97, "type": "quantitative"}, "y": {"datum": 0.272, "type": "quantitative"}, "text": {"value": "p=0.012"}}}
      ]
    }
  ],
  "config": {
    "font": "Liberation Serif",
    "view": {"stroke": null},
    "axis": {"domainColor": "#D9D9D9", "domainWidth": 1.5, "ticks": false, "tickSize": 0, "grid": false, "labelFont": "Liberation Serif", "labelFontSize": 23, "labelColor": "#595959", "labelOverlap": false, "labelFlush": false, "labelBound": false, "titleFont": "Liberation Serif", "titleFontSize": 28, "titleColor": "#595959", "titleFontWeight": "normal"},
    "axisX": {"labelPadding": 18},
    "axisY": {"labelPadding": 21.5},
    "text": {"font": "Liberation Serif"}
  }
}
